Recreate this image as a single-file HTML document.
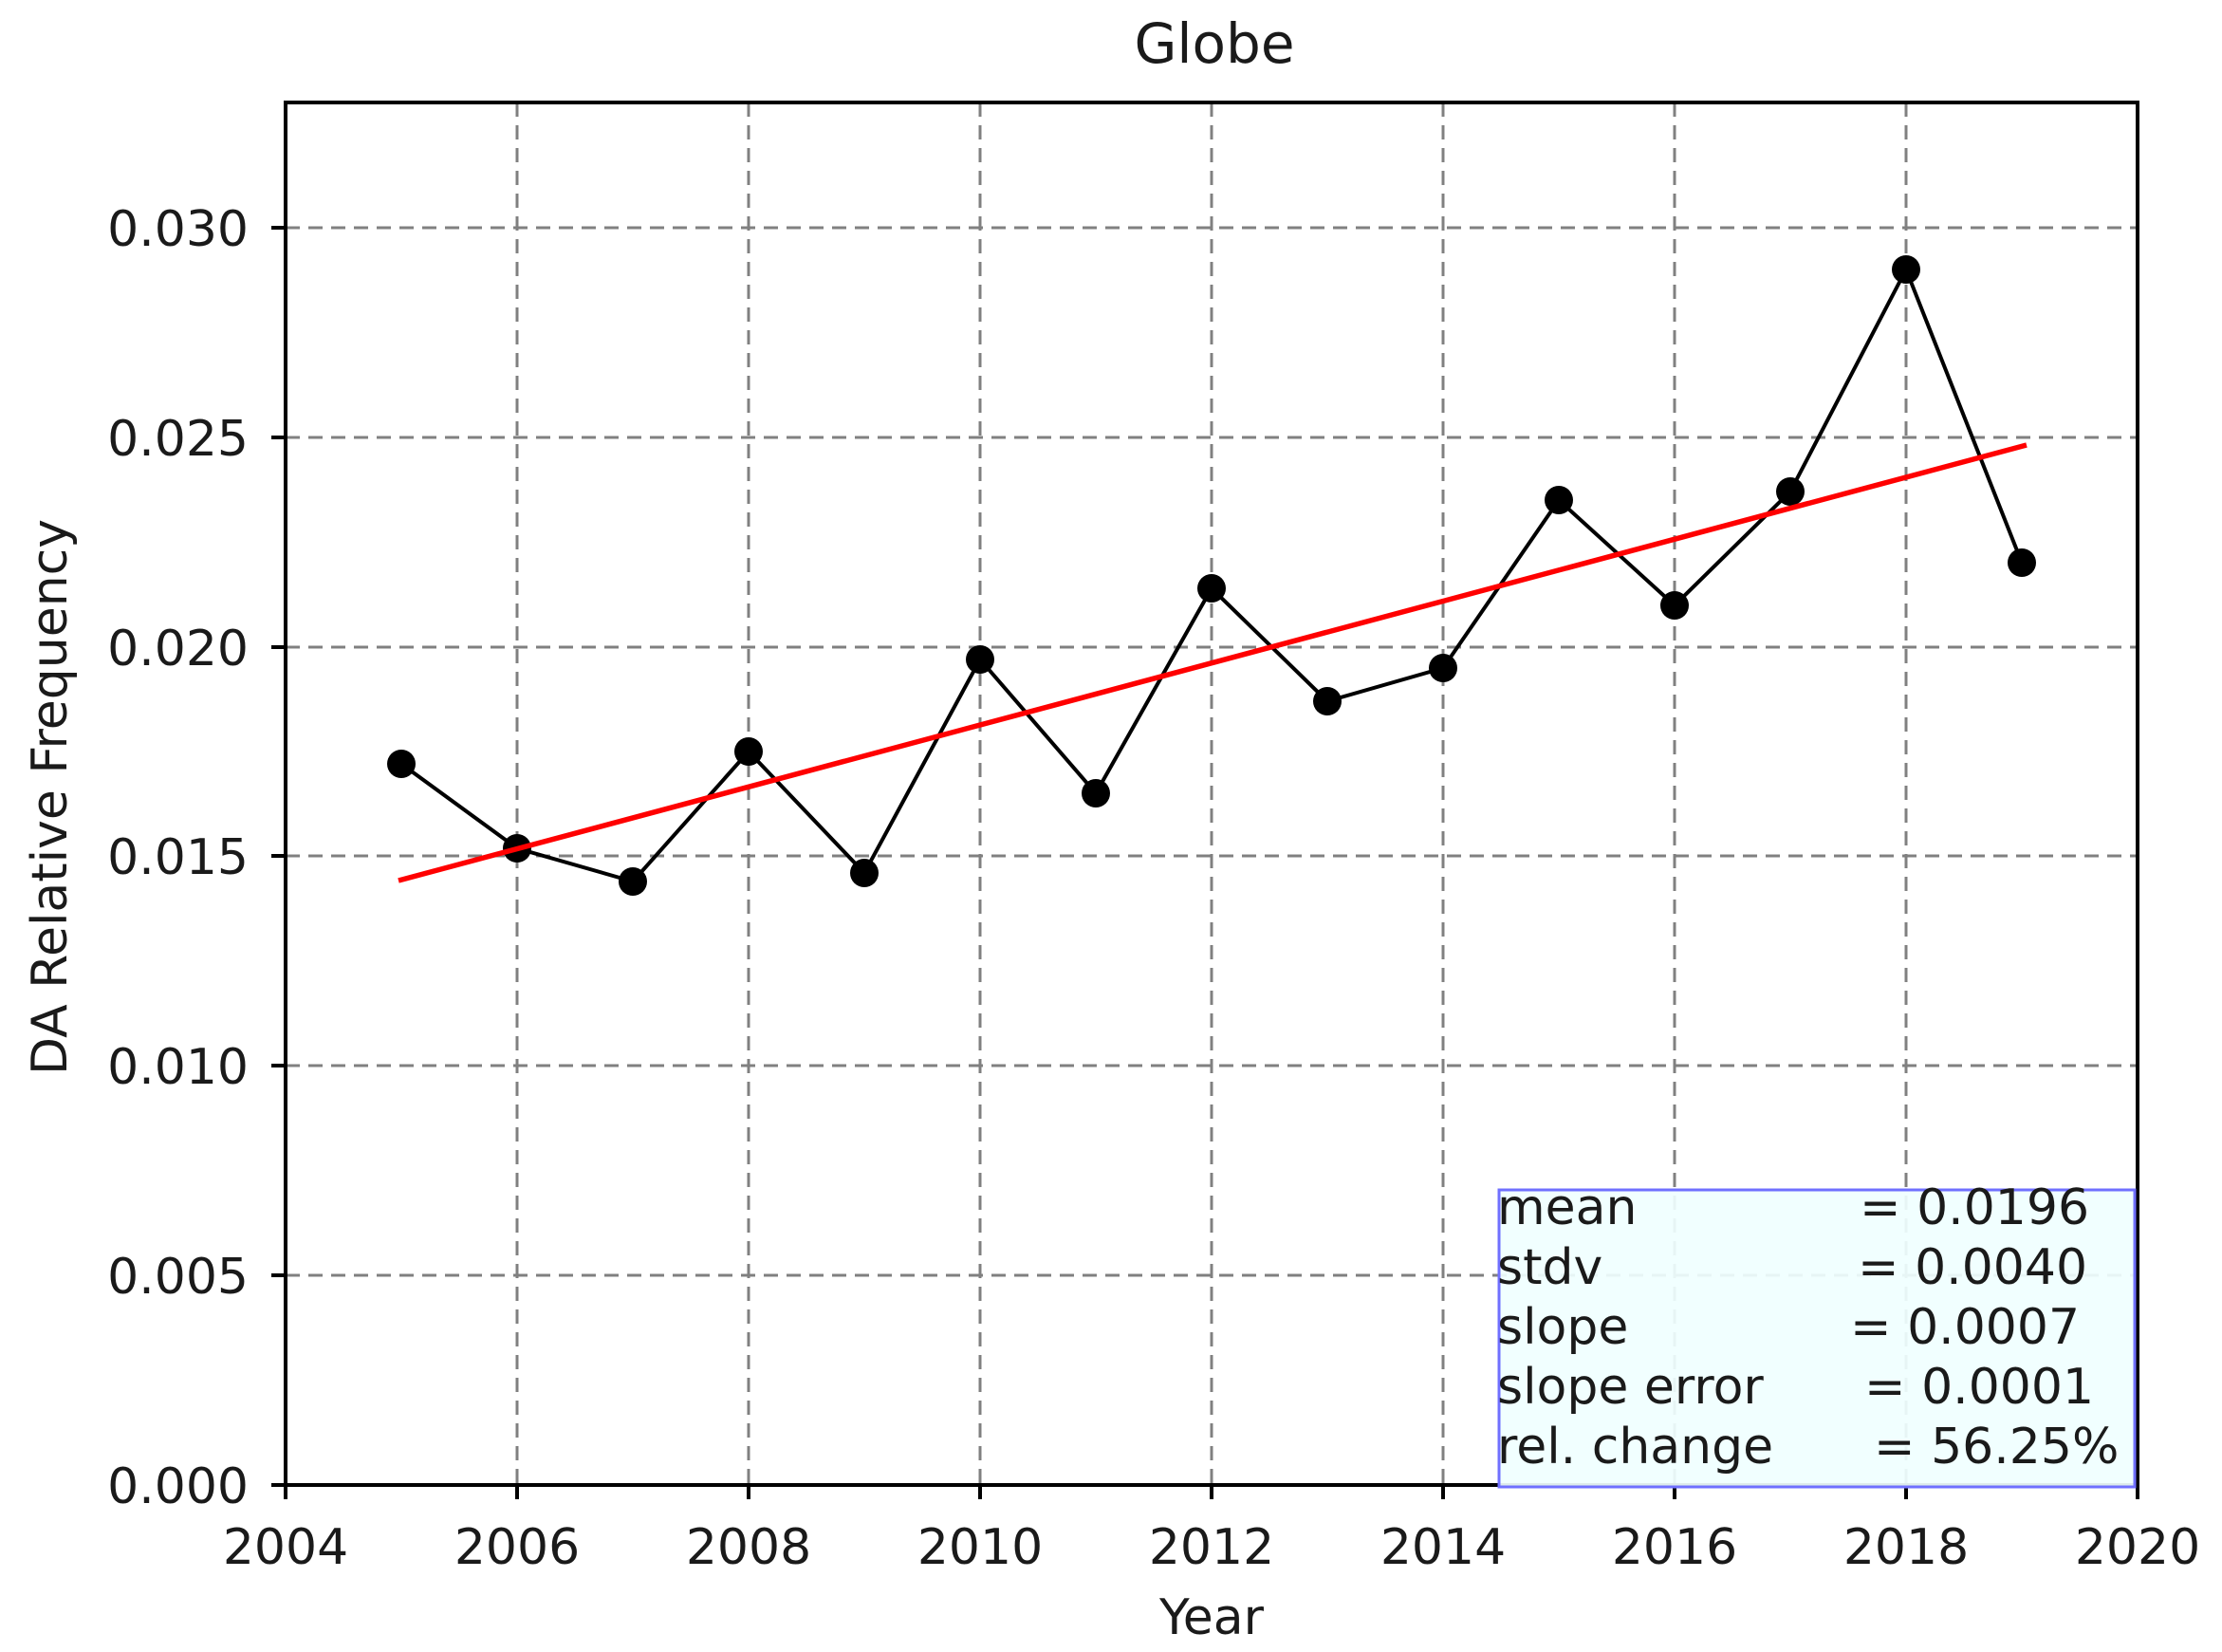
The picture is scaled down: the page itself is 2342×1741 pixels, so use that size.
<!DOCTYPE html>
<html><head><meta charset="utf-8"><style>
html,body{margin:0;padding:0;background:#fff;}
svg{display:block;}
text{font-family:"DejaVu Sans","Liberation Sans",sans-serif;fill:#1a1a1a;}
</style></head><body>
<svg width="2342" height="1741" viewBox="0 0 2342 1741" xmlns="http://www.w3.org/2000/svg">
<rect width="2342" height="1741" fill="#fff"/>
<g stroke="#808080" stroke-width="3" stroke-dasharray="15,9">
<line x1="545" y1="108" x2="545" y2="1565"/>
<line x1="789" y1="108" x2="789" y2="1565"/>
<line x1="1033" y1="108" x2="1033" y2="1565"/>
<line x1="1277" y1="108" x2="1277" y2="1565"/>
<line x1="1521" y1="108" x2="1521" y2="1565"/>
<line x1="1765" y1="108" x2="1765" y2="1565"/>
<line x1="2009" y1="108" x2="2009" y2="1565"/>
<line x1="301" y1="1344" x2="2253" y2="1344"/>
<line x1="301" y1="1123" x2="2253" y2="1123"/>
<line x1="301" y1="902" x2="2253" y2="902"/>
<line x1="301" y1="682" x2="2253" y2="682"/>
<line x1="301" y1="461" x2="2253" y2="461"/>
<line x1="301" y1="240" x2="2253" y2="240"/>
</g>
<polyline fill="none" stroke="#000" stroke-width="4" points="423,805 545,894 667,929 789,792 911,920 1033,695 1155,836 1277,620 1399,739 1521,704 1643,527 1765,638 1887,518 2009,284 2131,593"/>
<g fill="#000">
<circle cx="423" cy="805" r="15"/><circle cx="545" cy="894" r="15"/><circle cx="667" cy="929" r="15"/><circle cx="789" cy="792" r="15"/><circle cx="911" cy="920" r="15"/><circle cx="1033" cy="695" r="15"/><circle cx="1155" cy="836" r="15"/><circle cx="1277" cy="620" r="15"/><circle cx="1399" cy="739" r="15"/><circle cx="1521" cy="704" r="15"/><circle cx="1643" cy="527" r="15"/><circle cx="1765" cy="638" r="15"/><circle cx="1887" cy="518" r="15"/><circle cx="2009" cy="284" r="15"/><circle cx="2131" cy="593" r="15"/>
</g>
<line x1="420" y1="928" x2="2136" y2="469" stroke="#ff0000" stroke-width="5.5"/>
<rect x="301" y="108" width="1952" height="1457" fill="none" stroke="#000" stroke-width="4"/>
<g stroke="#000" stroke-width="4">
<line x1="301" y1="1565" x2="301" y2="1580"/><line x1="545" y1="1565" x2="545" y2="1580"/><line x1="789" y1="1565" x2="789" y2="1580"/><line x1="1033" y1="1565" x2="1033" y2="1580"/><line x1="1277" y1="1565" x2="1277" y2="1580"/><line x1="1521" y1="1565" x2="1521" y2="1580"/><line x1="1765" y1="1565" x2="1765" y2="1580"/><line x1="2009" y1="1565" x2="2009" y2="1580"/><line x1="2253" y1="1565" x2="2253" y2="1580"/>
<line x1="286" y1="1565" x2="301" y2="1565"/><line x1="286" y1="1344" x2="301" y2="1344"/><line x1="286" y1="1123" x2="301" y2="1123"/><line x1="286" y1="902" x2="301" y2="902"/><line x1="286" y1="682" x2="301" y2="682"/><line x1="286" y1="461" x2="301" y2="461"/><line x1="286" y1="240" x2="301" y2="240"/>
</g>
<rect x="1580" y="1254" width="670" height="313" fill="#f0ffff" fill-opacity="0.92" stroke="#7070ff" stroke-width="3"/>
<g font-size="52">
<text x="1578" y="1290">mean</text><text x="1960" y="1290">= 0.0196</text>
<text x="1578" y="1353">stdv</text><text x="1958" y="1353">= 0.0040</text>
<text x="1578" y="1416">slope</text><text x="1950" y="1416">= 0.0007</text>
<text x="1578" y="1479">slope error</text><text x="1965" y="1479">= 0.0001</text>
<text x="1578" y="1542">rel. change</text><text x="1975" y="1542">= 56.25%</text>
</g>
<g font-size="52" text-anchor="end">
<text x="262" y="1584">0.000</text><text x="262" y="1363">0.005</text><text x="262" y="1142">0.010</text><text x="262" y="921">0.015</text><text x="262" y="701">0.020</text><text x="262" y="480">0.025</text><text x="262" y="259">0.030</text>
</g>
<g font-size="52" text-anchor="middle">
<text x="301" y="1648">2004</text><text x="545" y="1648">2006</text><text x="789" y="1648">2008</text><text x="1033" y="1648">2010</text><text x="1277" y="1648">2012</text><text x="1521" y="1648">2014</text><text x="1765" y="1648">2016</text><text x="2009" y="1648">2018</text><text x="2253" y="1648">2020</text>
<text x="1277" y="1722">Year</text>
<text x="1280" y="66" font-size="58">Globe</text>
<text transform="translate(70,840) rotate(-90)">DA Relative Frequency</text>
</g>
</svg>
</body></html>
